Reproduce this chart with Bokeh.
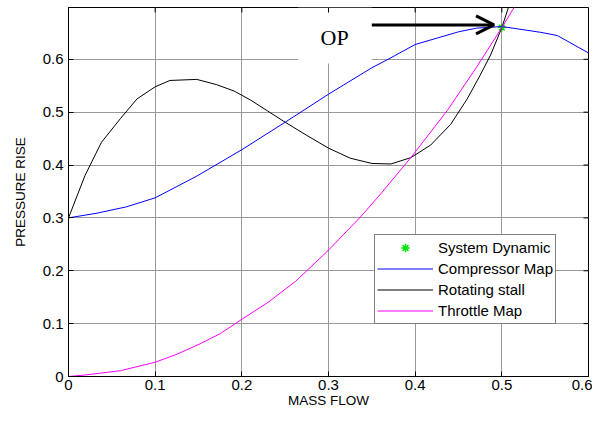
from bokeh.plotting import figure
from bokeh.models import (Range1d, FixedTicker, Arrow, OpenHead, Label,
                          BoxAnnotation)
from bokeh.embed import file_html
from bokeh.resources import INLINE

# ---- data ----
comp_x = [0.000, 0.033, 0.067, 0.100, 0.148, 0.200, 0.250, 0.300, 0.350, 0.371,
          0.400, 0.450, 0.471, 0.500, 0.545, 0.564, 0.600]
comp_y = [0.300, 0.309, 0.321, 0.338, 0.379, 0.429, 0.481, 0.534, 0.584, 0.602,
          0.628, 0.652, 0.659, 0.662, 0.651, 0.645, 0.612]

stall_x = [0.000, 0.019, 0.038, 0.060, 0.079, 0.100, 0.117, 0.148, 0.171, 0.191,
           0.210, 0.230, 0.250, 0.275, 0.300, 0.325, 0.350, 0.372, 0.395, 0.418,
           0.441, 0.460, 0.475, 0.487, 0.500, 0.508, 0.515]
stall_y = [0.300, 0.380, 0.443, 0.488, 0.525, 0.548, 0.560, 0.562, 0.552, 0.540,
           0.523, 0.502, 0.481, 0.456, 0.432, 0.413, 0.403, 0.402, 0.414, 0.438,
           0.477, 0.525, 0.570, 0.608, 0.660, 0.700, 0.730]

thr_x = [0.000, 0.020, 0.060, 0.100, 0.125, 0.152, 0.175, 0.198, 0.230, 0.262,
         0.300, 0.337, 0.360, 0.396, 0.437, 0.470, 0.500, 0.516, 0.525]
thr_y = [0.000, 0.003, 0.011, 0.027, 0.042, 0.062, 0.081, 0.106, 0.140, 0.180,
         0.239, 0.302, 0.345, 0.416, 0.503, 0.583, 0.660, 0.703, 0.727]

op_x = [0.500]
op_y = [0.660]

x_ticks = [0, 0.1, 0.2, 0.3, 0.4, 0.5, 0.6]
x_tick_labels = ["0", "0.1", "0.2", "0.3", "0.4", "0.5", "0.6"]
y_ticks = [0, 0.1, 0.2, 0.3, 0.4, 0.5, 0.6]
y_tick_labels = ["0", "0.1", "0.2", "0.3", "0.4", "0.5", "0.6"]

FONT = "Liberation Sans"
Y_TOP = 0.698

p = figure(width=592, height=410, output_backend="svg", toolbar_location=None,
           x_range=Range1d(0, 0.6), y_range=Range1d(0, Y_TOP),
           min_border_left=68, min_border_right=4, min_border_top=7,
           min_border_bottom=30)
p.background_fill_color = "white"
p.border_fill_color = "white"
p.outline_line_color = "black"
p.outline_line_width = 1

for ax, ticks, labels in ((p.xaxis[0], x_ticks, x_tick_labels),
                          (p.yaxis[0], y_ticks, y_tick_labels)):
    ax.ticker = FixedTicker(ticks=ticks)
    ax.major_label_overrides = {t: l for t, l in zip(ticks, labels)}
    ax.major_tick_in = 5
    ax.major_tick_out = 0
    ax.minor_tick_line_color = None
    ax.axis_line_color = "black"
    ax.major_tick_line_color = "black"
    ax.major_label_text_font = FONT
    ax.major_label_text_font_size = "15px"
    ax.major_label_text_color = "black"
    ax.axis_label_text_font = FONT
    ax.axis_label_text_font_size = "13.5px"
    ax.axis_label_text_font_style = "normal"
    ax.axis_label_text_color = "black"

p.xaxis.axis_label = "MASS FLOW"
p.yaxis.axis_label = "PRESSURE RISE"
p.xaxis.major_label_standoff = 3
p.xaxis.axis_label_standoff = 0
p.yaxis.major_label_standoff = 5
p.yaxis.axis_label_standoff = 12

p.xgrid.ticker = FixedTicker(ticks=x_ticks)
p.ygrid.ticker = FixedTicker(ticks=y_ticks)
for g in (p.xgrid, p.ygrid):
    g.grid_line_color = "#999999"
    g.grid_line_width = 1

# inward tick marks on the top and right edges (box style)
p.extra_x_ranges = {"fx": Range1d(0, 1)}
p.extra_y_ranges = {"fy": Range1d(0, 1)}
TICK_FX = 5 / 520
TICK_FY = 5 / 370
p.segment(x0=x_ticks, x1=x_ticks, y0=[1.0] * len(x_ticks),
          y1=[1.0 - TICK_FY] * len(x_ticks), y_range_name="fy",
          line_color="black", line_width=1)
p.segment(x0=[1.0] * len(y_ticks), x1=[1.0 - TICK_FX] * len(y_ticks),
          y0=y_ticks, y1=y_ticks, x_range_name="fx",
          line_color="black", line_width=1)

# white patch behind the OP label
p.add_layout(BoxAnnotation(left=0.265, right=0.350, bottom=0.592, top=Y_TOP,
                           fill_color="white", fill_alpha=1.0, line_color=None,
                           level="underlay"))

p.scatter(op_x, op_y, marker="asterisk", size=8, line_color="#00e000",
          line_width=1.5, legend_label="System Dynamic")
p.multi_line(xs=[comp_x], ys=[comp_y], line_color="#0000ff", line_width=1,
             legend_label="Compressor Map")
p.multi_line(xs=[stall_x], ys=[stall_y], line_color="#000000", line_width=1,
             legend_label="Rotating stall")
p.multi_line(xs=[thr_x], ys=[thr_y], line_color="#ff00ff", line_width=1,
             legend_label="Throttle Map")

p.add_layout(Label(x=0.307, y=0.641, text="OP", text_font="Liberation Serif",
                   text_font_size="22px", text_align="center",
                   text_baseline="middle", text_color="black"))
p.add_layout(Arrow(x_start=0.350, y_start=0.665, x_end=0.491, y_end=0.665,
                   line_width=3, line_color="black",
                   end=OpenHead(size=18, line_width=3, line_color="black")))

lg = p.legend[0]
lg.location = (306, 52)
lg.label_text_font = FONT
lg.label_text_font_size = "15px"
lg.label_text_color = "black"
lg.glyph_width = 56
lg.glyph_height = 21
lg.label_height = 21
lg.label_standoff = 5
lg.spacing = 0
lg.padding = 2
lg.margin = 0
lg.border_line_color = "black"
lg.border_line_width = 1
lg.background_fill_color = "white"
lg.background_fill_alpha = 1.0

open("out.html", "w").write(file_html(p, INLINE))
